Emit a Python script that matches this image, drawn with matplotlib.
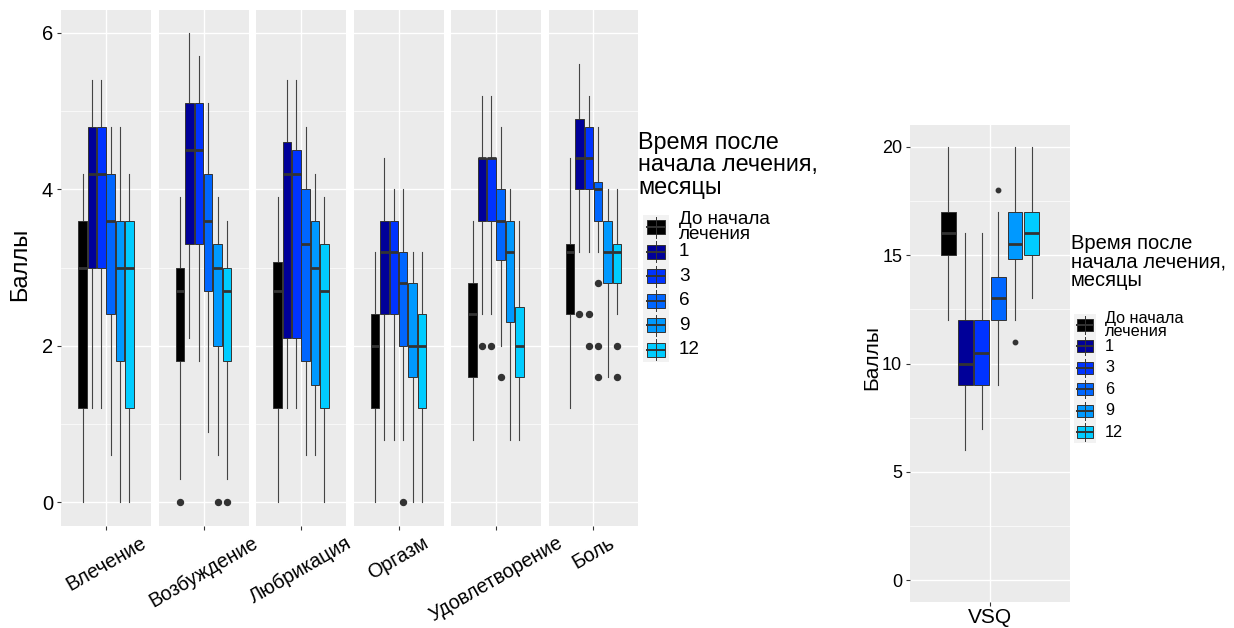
import matplotlib
matplotlib.use('Agg')
import matplotlib.pyplot as plt
from matplotlib.patches import Rectangle
from matplotlib.lines import Line2D

plt.rcParams['font.family'] = ['Liberation Sans', 'DejaVu Sans']

# --- данные ---
categories = ['Влечение', 'Возбуждение', 'Любрикация', 'Оргазм', 'Удовлетворение', 'Боль']
groups = ['До начала\nлечения', '1', '3', '6', '9', '12']
colors = ['#000000', '#000099', '#0033FF', '#0066FF', '#0099FF', '#00CCFF']

# строки = категории, столбцы = группы
whislo = [
    [0.0, 1.2, 1.2, 0.6, 0.0, 0.0],
    [0.3, 2.1, 1.8, 0.9, 0.6, 0.3],
    [0.0, 1.2, 1.2, 0.6, 0.6, 0.0],
    [0.0, 0.8, 0.8, 0.8, 0.0, 0.0],
    [0.8, 2.4, 2.4, 2.0, 0.8, 0.8],
    [1.2, 3.2, 3.2, 3.2, 1.6, 2.4],
]
q1 = [
    [1.2, 3.0, 3.0, 2.4, 1.8, 1.2],
    [1.8, 3.3, 3.3, 2.7, 2.0, 1.8],
    [1.2, 2.1, 2.1, 1.8, 1.5, 1.2],
    [1.2, 2.4, 2.4, 2.0, 1.6, 1.2],
    [1.6, 3.6, 3.6, 3.1, 2.3, 1.6],
    [2.4, 4.0, 4.0, 3.6, 2.8, 2.8],
]
med = [
    [3.0, 4.2, 4.2, 3.6, 3.0, 3.0],
    [2.7, 4.5, 4.5, 3.6, 3.0, 2.7],
    [2.7, 4.2, 4.2, 3.3, 3.0, 2.7],
    [2.0, 3.2, 3.2, 2.8, 2.0, 2.0],
    [2.4, 4.4, 4.4, 3.6, 3.2, 2.0],
    [3.2, 4.4, 4.4, 4.0, 3.2, 3.2],
]
q3 = [
    [3.6, 4.8, 4.8, 4.2, 3.6, 3.6],
    [3.0, 5.1, 5.1, 4.2, 3.3, 3.0],
    [3.07, 4.6, 4.5, 4.0, 3.6, 3.3],
    [2.4, 3.6, 3.6, 3.2, 2.8, 2.4],
    [2.8, 4.4, 4.4, 4.0, 3.6, 2.5],
    [3.3, 4.9, 4.8, 4.1, 3.6, 3.3],
]
whishi = [
    [4.2, 5.4, 5.4, 4.8, 4.8, 4.2],
    [3.9, 6.0, 5.7, 5.1, 3.9, 3.6],
    [3.9, 5.4, 5.4, 4.8, 4.2, 3.9],
    [3.2, 4.4, 4.0, 4.0, 3.2, 3.2],
    [3.6, 5.2, 5.2, 4.8, 4.0, 3.6],
    [4.4, 5.6, 5.2, 4.8, 4.0, 4.0],
]
fliers = [
    [[], [], [], [], [], []],
    [[0.0], [], [], [], [0.0], [0.0]],
    [[], [], [], [], [], []],
    [[], [], [], [0.0], [], []],
    [[], [2.0], [2.0], [1.6], [], []],
    [[], [2.4], [2.4, 2.0], [2.8, 2.0, 1.6], [], [2.0, 1.6]],
]

# VSQ
vsq_whislo = [12, 6, 7, 9, 12, 13]
vsq_q1 = [15, 9, 9, 12, 14.8, 15]
vsq_med = [16, 10, 10.5, 13, 15.5, 16]
vsq_q3 = [17, 12, 12, 14, 17, 17]
vsq_whishi = [20, 16, 16, 17, 20, 20]
vsq_fliers = [[], [], [], [18], [11], []]

legend_title = 'Время после\nначала лечения,\nмесяцы'

W, H = 1234, 628
fig = plt.figure(figsize=(W / 100, H / 100), dpi=100)


def px_rect(x0, y0, x1, y1):
    return [x0 / W, 1 - y1 / H, (x1 - x0) / W, (y1 - y0) / H]


def style_panel(ax, ylim, major, minor, tsize):
    ax.set_facecolor('#EBEBEB')
    for s in ax.spines.values():
        s.set_visible(False)
    ax.set_xlim(0.4, 1.6)
    ax.set_ylim(*ylim)
    ax.set_yticks(major)
    ax.set_yticks(minor, minor=True)
    ax.set_axisbelow(True)
    ax.grid(True, which='major', color='white', linewidth=1.0)
    ax.grid(True, which='minor', axis='y', color='white', linewidth=0.5)
    ax.tick_params(which='major', length=2.6, width=0.8, color='#333333',
                   labelsize=tsize, labelcolor='black', pad=3)
    ax.tick_params(which='minor', length=0)


def draw_boxes(ax, lo, a, m, b, hi, out, width, msize):
    stats = []
    for i in range(len(groups)):
        stats.append(dict(whislo=lo[i], q1=a[i], med=m[i], q3=b[i],
                          whishi=hi[i], fliers=out[i]))
    pos = [1 + (i - 2.5) * 0.125 for i in range(len(groups))]
    bp = ax.bxp(stats, positions=pos, widths=width, patch_artist=True,
                showcaps=False, manage_ticks=False,
                boxprops=dict(edgecolor='#333333', linewidth=0.7),
                medianprops=dict(color='#333333', linewidth=2.0),
                whiskerprops=dict(color='#444444', linewidth=0.8),
                flierprops=dict(marker='o', markerfacecolor='#333333',
                                markeredgecolor='#333333', markersize=msize))
    for patch, c in zip(bp['boxes'], colors):
        patch.set_facecolor(c)
    for wl in bp['whiskers']:
        wl.set_zorder(1.5)


def draw_legend(title, tx, ty, tsize, kx0, kx1, ktop, row_h, lx, lsize):
    fig.text(tx / W, 1 - ty / H, title, fontsize=tsize, ha='left', va='center',
             linespacing=0.95)
    bg = Rectangle((kx0 / W, 1 - (ktop + row_h * len(groups)) / H),
                   (kx1 - kx0) / W, row_h * len(groups) / H,
                   transform=fig.transFigure, facecolor='#F2F2F2',
                   edgecolor='none')
    fig.patches.append(bg)
    kw = kx1 - kx0
    cx = (kx0 + kx1) / 2
    for i, (g, c) in enumerate(zip(groups, colors)):
        r0 = ktop + i * row_h
        rc = r0 + row_h / 2
        fig.lines.append(Line2D([cx / W, cx / W],
                                [1 - (r0 + 0.08 * row_h) / H, 1 - (r0 + 0.92 * row_h) / H],
                                transform=fig.transFigure, color='#333333', lw=0.7))
        bx0 = kx0 + 0.14 * kw
        bx1 = kx1 - 0.14 * kw
        by0 = r0 + 0.22 * row_h
        by1 = r0 + 0.78 * row_h
        fig.patches.append(Rectangle((bx0 / W, 1 - by1 / H), (bx1 - bx0) / W,
                                     (by1 - by0) / H, transform=fig.transFigure,
                                     facecolor=c, edgecolor='#333333', lw=0.7))
        fig.lines.append(Line2D([bx0 / W, bx1 / W], [1 - rc / H, 1 - rc / H],
                                transform=fig.transFigure, color='#333333', lw=1.4))
        fig.text(lx / W, 1 - rc / H, g, fontsize=lsize, ha='left', va='center',
                 linespacing=0.85)


# --- левый график: фасеты по шкалам ---
for k, cat in enumerate(categories):
    x0 = 61 + k * 97.5
    ax = fig.add_axes(px_rect(x0, 9.5, x0 + 90, 525.5))
    style_panel(ax, (-0.3, 6.3), [0, 2, 4, 6], [1, 3, 5], 14.5)
    draw_boxes(ax, whislo[k], q1[k], med[k], q3[k], whishi[k], fliers[k],
               0.1125, 4.3)
    ax.set_xticks([1])
    ax.set_xticklabels([cat], rotation=30, ha='center', va='top',
                       fontsize=14.2)
    if k > 0:
        ax.tick_params(axis='y', left=False, labelleft=False)

fig.text(20.5 / W, 1 - 264 / H, 'Баллы', rotation=90, fontsize=17,
         ha='center', va='center')
draw_legend(legend_title, 638, 165, 16.8, 643, 669, 215, 24.5, 679, 13.6)

# --- правый график: VSQ ---
axr = fig.add_axes(px_rect(910, 125, 1070, 602))
style_panel(axr, (-1, 21), [0, 5, 10, 15, 20], [2.5, 7.5, 12.5, 17.5], 13)
draw_boxes(axr, vsq_whislo, vsq_q1, vsq_med, vsq_q3, vsq_whishi, vsq_fliers,
           0.1125, 3.2)
axr.set_xticks([1])
axr.set_xticklabels(['VSQ'], fontsize=15)
axr.tick_params(axis='x', pad=1.5)
fig.text(872 / W, 1 - 358 / H, 'Баллы', rotation=90, fontsize=15,
         ha='center', va='center')
draw_legend(legend_title, 1071, 262, 14.5, 1074, 1096, 314, 21.5, 1105, 11.7)

fig.savefig('out.png', dpi=100)
